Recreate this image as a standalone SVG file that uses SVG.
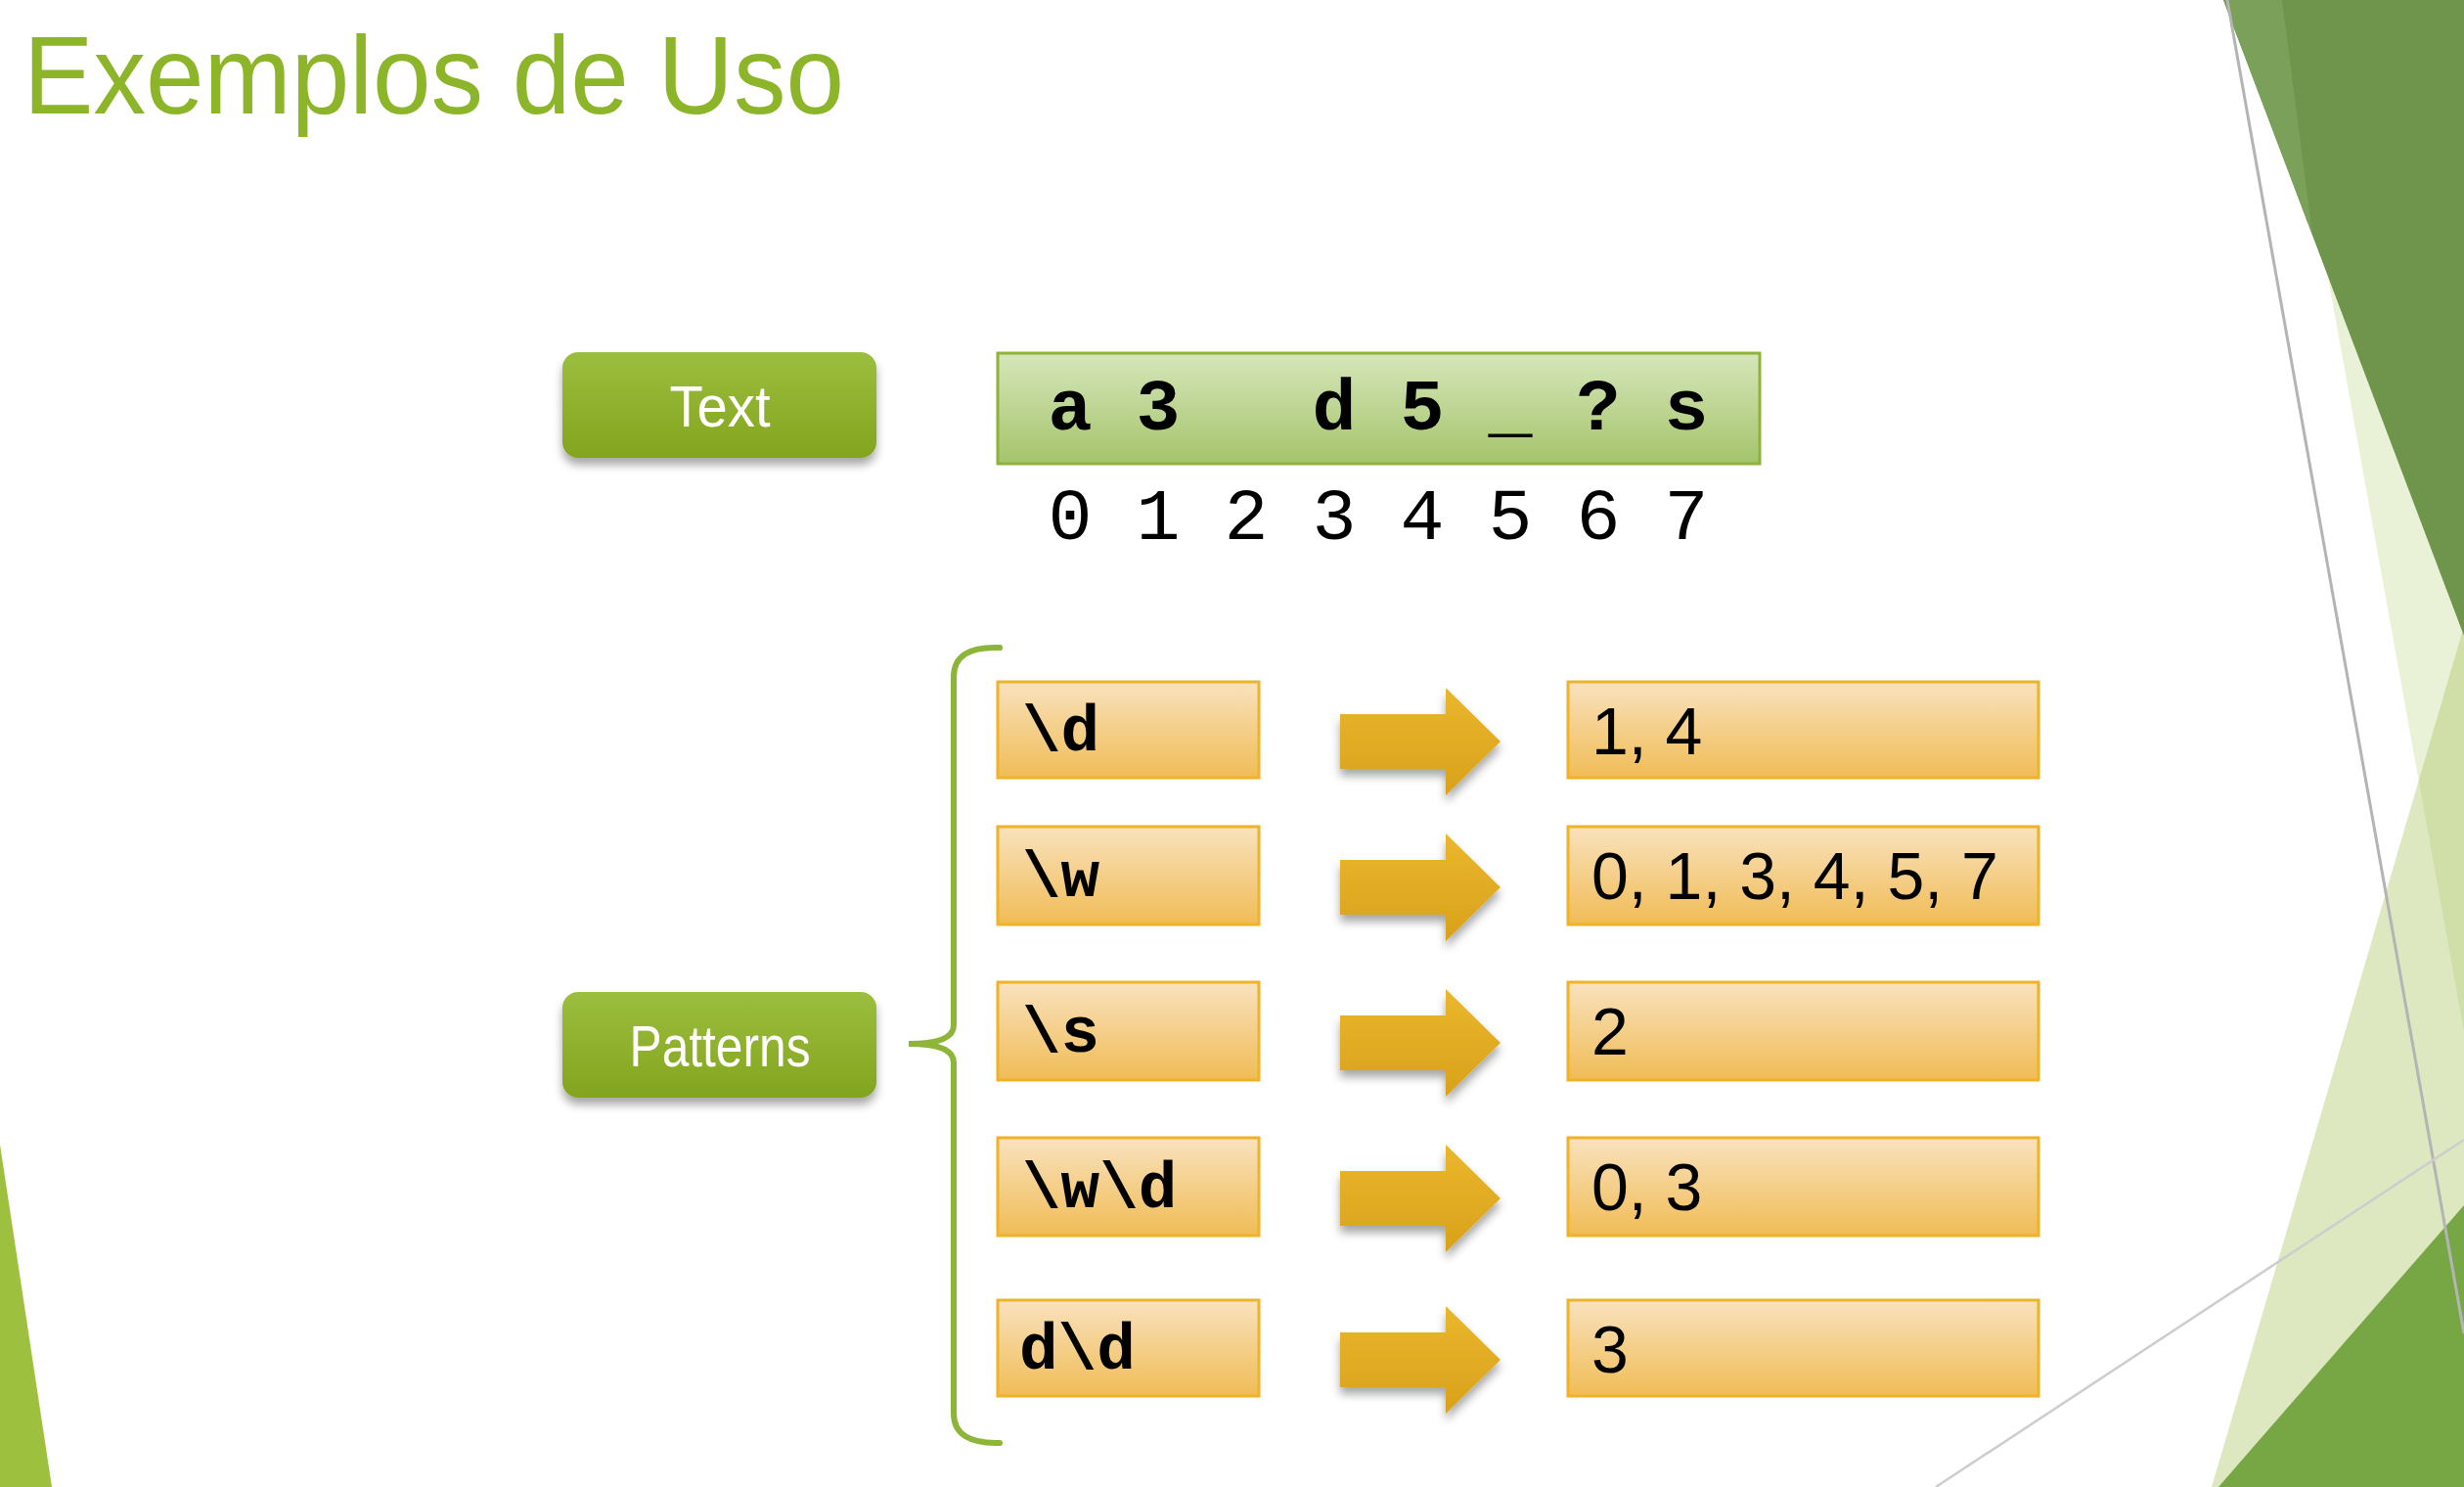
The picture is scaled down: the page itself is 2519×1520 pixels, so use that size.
<svg xmlns="http://www.w3.org/2000/svg" width="2519" height="1520" viewBox="0 0 2519 1520">
<defs>
<linearGradient id="gBtn" x1="0" y1="0" x2="0" y2="1"><stop offset="0" stop-color="#9CBE3E"/><stop offset="1" stop-color="#83A41E"/></linearGradient>
<linearGradient id="gStr" x1="0" y1="0" x2="0" y2="1"><stop offset="0" stop-color="#D6E6BA"/><stop offset="1" stop-color="#A5C46B"/></linearGradient>
<linearGradient id="gBox" x1="0" y1="0" x2="0" y2="1"><stop offset="0" stop-color="#F9E2BE"/><stop offset="1" stop-color="#F0BC55"/></linearGradient>
<linearGradient id="gArr" x1="0" y1="0" x2="0" y2="1"><stop offset="0" stop-color="#EAB72C"/><stop offset="1" stop-color="#D9A11B"/></linearGradient>
<filter id="sh" x="-20%" y="-20%" width="140%" height="160%"><feDropShadow dx="0" dy="7" stdDeviation="5" flood-color="#000" flood-opacity="0.35"/></filter>
<path id="arr" d="M0,-28 H108 V-55 L164,0 L108,55 V28 H0 Z"/>
</defs>
<style>
.title{font-family:"Liberation Sans",Arial,sans-serif;font-size:113px;fill:#8DB52A}
.btn{fill:url(#gBtn)}
.btnt{font-family:"Liberation Sans",Arial,sans-serif;font-size:60px;fill:#FFFFFF;text-anchor:middle}
.mono{font-family:"Liberation Mono","Courier New",monospace;font-size:75px;fill:#000}
.pat{font-family:"Liberation Mono","Courier New",monospace;font-size:66px;font-weight:bold;fill:#000}
.b{font-weight:bold}
.box{fill:url(#gBox);stroke:#F0B226;stroke-width:3}
.res{font-family:"Liberation Sans",Arial,sans-serif;font-size:68px;fill:#000}
.arrow{fill:url(#gArr);filter:url(#sh)}
</style>
<rect width="2519" height="1520" fill="#FFFFFF"/>
<!-- background decoration -->
<polygon points="2329,0 2519,0 2519,1055" fill="#E9F1D6"/>
<polygon points="2519,640 2261,1520 2519,1520" fill="#AAC564" fill-opacity="0.4"/>
<polygon points="2273,0 2519,0 2519,650" fill="#6F944B"/>
<polygon points="2273,0 2333,0 2364,240" fill="#7BA05A"/>
<polygon points="2519,1232 2268,1520 2519,1520" fill="#77A645"/>
<line x1="2277" y1="0" x2="2519" y2="1363" stroke="#B4B4B4" stroke-width="3"/>
<line x1="1979" y1="1520" x2="2519" y2="1165" stroke="#CDCDCD" stroke-width="2.5"/>
<polygon points="0,1170 53,1520 0,1520" fill="#9DC13F"/>
<text class="title" x="24" y="116" textLength="839" lengthAdjust="spacingAndGlyphs">Exemplos de Uso</text>
<g id="node-text">
<rect class="btn" x="575" y="360" width="321" height="108" rx="16" filter="url(#sh)"/>
<text class="btnt" x="736" y="436" textLength="103" lengthAdjust="spacingAndGlyphs">Text</text>
</g>
<g id="node-string">
<rect x="1020" y="361" width="779" height="113" fill="url(#gStr)" stroke="#8DB439" stroke-width="3"/>
<text class="mono b" text-anchor="middle" x="1094 1184 1364 1454 1544 1634 1724" y="439">a3d5_?s</text>
<text class="mono" text-anchor="middle" x="1094 1184 1274 1364 1454 1544 1634 1724" y="551">01234567</text>
</g>
<g id="node-patterns">
<rect class="btn" x="575" y="1014" width="321" height="108" rx="16" filter="url(#sh)"/>
<text class="btnt" x="736" y="1090" textLength="185" lengthAdjust="spacingAndGlyphs">Patterns</text>
</g>
<g id="node-p1"><rect class="box" x="1020" y="697" width="267" height="98"/><text class="pat" x="1045" y="767">\d</text></g>
<g id="node-p2"><rect class="box" x="1020" y="845" width="267" height="100"/><text class="pat" x="1045" y="916">\w</text></g>
<g id="node-p3"><rect class="box" x="1020" y="1004" width="267" height="100"/><text class="pat" x="1045" y="1075">\s</text></g>
<g id="node-p4"><rect class="box" x="1020" y="1163" width="267" height="100"/><text class="pat" x="1045" y="1234">\w\d</text></g>
<g id="node-p5"><rect class="box" x="1020" y="1329" width="267" height="98"/><text class="pat" x="1042" y="1399">d\d</text></g>
<g id="node-r1"><rect class="box" x="1603" y="697" width="481" height="98"/><text class="res" x="1627" y="771">1, 4</text></g>
<g id="node-r2"><rect class="box" x="1603" y="845" width="481" height="100"/><text class="res" x="1627" y="919">0, 1, 3, 4, 5, 7</text></g>
<g id="node-r3"><rect class="box" x="1603" y="1004" width="481" height="100"/><text class="res" x="1627" y="1078">2</text></g>
<g id="node-r4"><rect class="box" x="1603" y="1163" width="481" height="100"/><text class="res" x="1627" y="1237">0, 3</text></g>
<g id="node-r5"><rect class="box" x="1603" y="1329" width="481" height="98"/><text class="res" x="1627" y="1403">3</text></g>
<g id="connectors">
<path d="M1022,662 Q975,660 975,692 L975,1048 Q975,1067 929,1067 Q975,1067 975,1086 L975,1445 Q975,1476 1022,1475" fill="none" stroke="#8DB53A" stroke-width="6" stroke-linecap="round"/>
<use href="#arr" class="arrow" x="1370" y="758"/>
<use href="#arr" class="arrow" x="1370" y="907"/>
<use href="#arr" class="arrow" x="1370" y="1066"/>
<use href="#arr" class="arrow" x="1370" y="1225"/>
<use href="#arr" class="arrow" x="1370" y="1390"/>
</g>
</svg>
